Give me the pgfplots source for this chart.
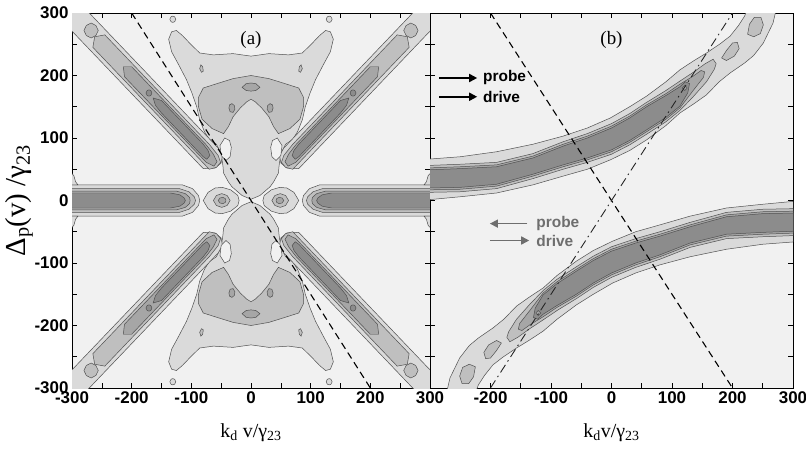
\documentclass[border=0pt]{standalone}
\usepackage{pgfplots}
\pgfplotsset{compat=1.18}
\usepackage{pgfplotstable}
\usetikzlibrary{arrows.meta}
\usepackage{fontspec}
\setmainfont{Liberation Serif}
\setsansfont{Liberation Sans}

\definecolor{bgc}{HTML}{F1F1F1}
\definecolor{ca}{HTML}{DADADA}
\definecolor{cb}{HTML}{BFBFBF}
\definecolor{cc}{HTML}{A6A6A6}
\definecolor{cd}{HTML}{8C8C8C}
\definecolor{cline}{HTML}{505050}
\definecolor{legray}{HTML}{6E6E6E}

\newcommand\ticksf{\fontsize{17}{17}\selectfont\sffamily\bfseries}
\newcommand\labf{\fontsize{20}{24}\selectfont\rmfamily}

\pgfplotsset{
  L0/.style={fill=bgc, draw=cline, line width=0.5pt},
  L1/.style={fill=ca, draw=cline, line width=0.5pt},
  L2/.style={fill=cb, draw=cline, line width=0.5pt},
  L3/.style={fill=cc, draw=cline, line width=0.5pt},
  L4/.style={fill=cd, draw=cline, line width=0.5pt},
}

\newcommand{\fourway}[2]{%
  \addplot[#1] table[x=x,y=y]{#2} -- cycle;
  \addplot[#1] table[x expr=-1*(\thisrow{x}),y=y]{#2} -- cycle;
  \addplot[#1] table[x=x,y expr=-1*(\thisrow{y})]{#2} -- cycle;
  \addplot[#1] table[x expr=-1*(\thisrow{x}),y expr=-1*(\thisrow{y})]{#2} -- cycle;}
\newcommand{\xmir}[2]{%
  \addplot[#1] table[x=x,y=y]{#2} -- cycle;
  \addplot[#1] table[x expr=-1*(\thisrow{x}),y=y]{#2} -- cycle;}
\newcommand{\ymir}[2]{%
  \addplot[#1] table[x=x,y=y]{#2} -- cycle;
  \addplot[#1] table[x=x,y expr=-1*(\thisrow{y})]{#2} -- cycle;}
\newcommand{\rot}[2]{%
  \addplot[#1] table[x=x,y=y]{#2} -- cycle;
  \addplot[#1] table[x expr=-1*(\thisrow{x}),y expr=-1*(\thisrow{y})]{#2} -- cycle;}

% ---------- panel (a) : upper-left quadrant shapes ----------
\pgfplotstableread{
x y
-320 349
-250 279
-200 229
-150 179
-100 129
-70 99
-55 84
-48 72
-50 60
-60 52
-80 51
-100 71
-150 121
-200 171
-250 221
-320 291
}\armA
\pgfplotstableread{
x y
-280 272
-276 280
-268 284
-260 280
-256 272
-260 264
-268 260
-276 264
}\beadA
\pgfplotstableread{
x y
-262 262
-245 265
-200 220
-150 170
-100 120
-70 90
-55 72
-51 61
-58 53
-70 50
-100 80
-150 130
-200 180
-250 230
-265 245
}\armB
\pgfplotstableread{
x y
-214 214
-200 214
-150 164
-100 114
-75 89
-63 74
-57 62
-62 55
-75 61
-100 86
-150 136
-200 186
-212 198
}\armC
\pgfplotstableread{
x y
-164 164
-150 160
-100 110
-80 90
-72 80
-69 72
-74 66
-80 70
-100 90
-150 140
-160 152
}\armD
\pgfplotstableread{
x y
-176 172
-174 176
-171 177
-168 176
-166 172
-168 168
-171 167
-174 168
}\dotD
\pgfplotstableread{
x y
-305 25
-115 25
-98 19
-88 8
-86 0
-88 -8
-98 -19
-115 -25
-305 -25
}\hA
\pgfplotstableread{
x y
-305 19
-120 19
-104 14
-95 6
-93 0
-95 -6
-104 -14
-120 -19
-305 -19
}\hB
\pgfplotstableread{
x y
-305 15
-125 15
-110 11
-103 5
-102 0
-103 -5
-110 -11
-125 -15
-305 -15
}\hC
\pgfplotstableread{
x y
-305 12
-135 12
-119 9
-112 4
-110 0
-112 -4
-119 -9
-135 -12
-305 -12
}\hD
\pgfplotstableread{
x y
-305 25
-302 45
-297 40
-294 30
-290 25
}\flare
\pgfplotstableread{
x y
-80 0
-72 13
-60 20
-48 21
-34 17
-22 8
-20 0
-22 -8
-34 -17
-48 -21
-60 -20
-72 -13
}\sbA
\pgfplotstableread{
x y
-63 0
-58 8
-49 11
-40 8
-35 0
-40 -8
-49 -11
-58 -8
}\sbB
\pgfplotstableread{
x y
-55 0
-52 4
-47 5
-43 3
-42 0
-43 -3
-47 -5
-52 -4
}\sbC
\pgfplotstableread{
x y
0 231
-30 235
-63 233
-86 236
-102 251
-115 264
-125 272
-133 270
-138 258
-133 238
-120 215
-108 193
-99 172
-91 150
-86 129
-78 110
-70 98
-58 90
-50 75
-47 55
-46 44
-38 30
-32 22
-15 8
0 2
15 8
32 22
38 30
46 44
47 55
50 75
58 90
70 98
78 110
86 129
91 150
99 172
108 193
120 215
133 238
138 258
133 270
125 272
115 264
102 251
86 236
63 233
30 235
}\cenA
\pgfplotstableread{
x y
-44 100
-36 96
-33 85
-35 70
-42 64
-50 72
-52 88
}\pocket
\pgfplotstableread{
x y
0 200
-30 195
-57 187
-80 180
-88 165
-88 150
-82 130
-65 115
-46 107
-38 118
-30 134
-18 148
-7 158
0 162
7 158
18 148
30 134
38 118
46 107
65 115
82 130
88 150
88 165
80 180
57 187
30 195
}\bat
\pgfplotstableread{
x y
-15 181
-8 187
0 188
8 187
15 181
8 176
0 175
-8 176
}\spotT
\pgfplotstableread{
x y
-32 155
-28 152
-27 146
-30 141
-35 142
-37 148
-36 153
}\spotS
\pgfplotstableread{
x y
-86 211
-84 217
-81 214
-80 207
-83 205
}\spotU
\pgfplotstableread{
x y
-136 290
-134 294
-131 295
-128 294
-126 290
-128 286
-131 285
-134 286
}\spotC

% ---------- panel (b) : upper band (lower band = point reflection) ----------
\pgfplotstableread{
x y
-305 66
-250 70
-190 78
-130 90
-80 103
-40 116
-2 132
30 150
58 167
90 190
113 209
135 223
157 236
180 251
196 263
210 280
220 295
224 305
272 305
267 284
251 252
235 232
220 220
196 204
178 190
157 169
135 154
113 140
90 120
58 97
30 80
-2 65
-40 50
-80 39
-130 25
-190 12
-250 6
-305 1
}\bA
\pgfplotstableread{
x y
-305 56
-250 58
-190 61
-130 75
-80 94
-40 107
0 123
30 139
58 157
90 176
113 191
135 205
155 219
168 226
173 219
170 210
157 190
135 166
113 144
90 126
58 106
30 89
0 74
-40 61
-80 50
-130 35
-190 19
-250 14
-305 13
}\bB
\pgfplotstableread{
x y
-305 52
-250 54
-190 57
-130 71
-80 90
-40 103
0 119
30 135
58 153
90 171
113 186
135 199
148 208
154 206
152 197
135 176
113 148
90 130
58 110
30 93
0 78
-40 65
-80 54
-130 39
-190 23
-250 18
-305 17
}\bC
\pgfplotstableread{
x y
-305 49
-250 51
-190 54
-130 68
-80 87
-40 100
0 116
30 132
58 150
90 168
113 182
122 190
129 187
126 172
113 151
90 133
58 113
30 96
0 81
-40 68
-80 57
-130 42
-190 26
-250 21
-305 20
}\bD
\pgfplotstableread{
x y
117 180
121 184
125 180
121 176
}\bdot
\pgfplotstableread{
x y
182 228
190 240
200 252
208 253
211 243
203 231
190 224
}\blobA
\pgfplotstableread{
x y
225 266
228 282
236 293
247 293
251 281
246 267
235 262
}\blobB

\pgfplotsset{
  panel/.style={
    scale only axis, height=375bp,
    xmin=-300, xmax=300, ymin=-300, ymax=300,
    axis background/.style={fill=bgc},
    ytick={-300,-200,...,300},
    minor xtick={-250,-150,...,250},
    minor ytick={-250,-150,...,250},
    xtick pos=both, ytick pos=both,
    xticklabel pos=lower, yticklabel pos=left,
    tick align=inside,
    major tick length=5bp, minor tick length=5bp,
    tick style={black, line width=0.6pt},
    axis line style={black, line width=0.8pt},
    tick label style={font=\ticksf},
    xlabel style={font=\labf, at={(axis description cs:0.5,-0.118)}, anchor=center},
  }
}

\begin{document}
\begin{tikzpicture}
\useasboundingbox (0,0) rectangle (806bp,449bp);
% ===================== (a) =====================
\begin{axis}[panel,
  at={(72bp,61bp)}, anchor=south west, width=358bp,
  xtick={-300,-200,...,300},
  xticklabels={-300,-200,-100,0,100,200,300},
  yticklabels={-300,-200,-100,0,100,200,300},
  xlabel={k\textsubscript{d} v/γ\textsubscript{23}},
  ylabel={Δ\textsubscript{p}(v) /γ\textsubscript{23}},
  ylabel style={font=\fontsize{29}{32}\selectfont\rmfamily, at={(axis description cs:-0.148,0.5)}, anchor=center},
]
% level 1
\ymir{L1}{\cenA}
\fourway{L1}{\armA}
\xmir{L1}{\hA}
\fourway{L1}{\flare}
\xmir{L1}{\sbA}
\fourway{L1}{\spotC}
\fourway{L0}{\pocket}
% level 2
\ymir{L2}{\bat}
\fourway{L2}{\beadA}
\fourway{L2}{\armB}
\xmir{L2}{\hB}
\xmir{L2}{\sbB}
\fourway{L2}{\spotU}
% level 3
\fourway{L3}{\armC}
\xmir{L3}{\hC}
\xmir{L3}{\sbC}
\ymir{L3}{\spotT}
\fourway{L3}{\spotS}
% level 4
\fourway{L4}{\armD}
\fourway{L4}{\dotD}
\xmir{L4}{\hD}
% dashed line
\addplot[black, line width=1.1pt, dash pattern=on 7bp off 4.5bp] coordinates {(-200,300) (200,-300)};
\node[font=\fontsize{19}{22}\selectfont\rmfamily] at (axis cs:0,257) {(a)};
\end{axis}
% ===================== (b) =====================
\begin{axis}[panel,
  at={(430bp,61bp)}, anchor=south west, width=363bp,
  xtick={-200,-100,...,300},
  xticklabels={-200,-100,0,100,200,300},
  yticklabels={},
  xlabel={k\textsubscript{d}v/γ\textsubscript{23}},
]
\rot{L1}{\bA}
\rot{L2}{\bB}
\rot{L2}{\blobA}
\rot{L2}{\blobB}
\rot{L3}{\bC}
\rot{L4}{\bD}
\rot{L3}{\bdot}
\addplot[black, line width=1.1pt, dash pattern=on 7bp off 4.5bp] coordinates {(-200,300) (200,-300)};
\addplot[black!85, line width=0.9pt, dash pattern=on 9bp off 4bp on 1.5bp off 4bp] coordinates {(-200,-300) (200,300)};
% legends
\addplot[black, line width=1.7pt, -{Triangle[length=8bp,width=8bp]}] coordinates {(-285,196) (-222,196)};
\addplot[black, line width=1.7pt, -{Triangle[length=8bp,width=8bp]}] coordinates {(-285,166) (-222,166)};
\node[anchor=west, font=\fontsize{15.5}{17}\selectfont\sffamily\bfseries] at (axis cs:-218,196) {probe};
\node[anchor=west, font=\fontsize{15.5}{17}\selectfont\sffamily\bfseries] at (axis cs:-218,166) {drive};
\addplot[legray, line width=1.5pt, -{Triangle[length=8bp,width=8bp]}] coordinates {(-139,-37) (-201,-37)};
\addplot[legray, line width=1.5pt, -{Triangle[length=8bp,width=8bp]}] coordinates {(-201,-64) (-136,-64)};
\node[anchor=west, text=legray, font=\fontsize{15.5}{17}\selectfont\sffamily\bfseries] at (axis cs:-130,-37) {probe};
\node[anchor=west, text=legray, font=\fontsize{15.5}{17}\selectfont\sffamily\bfseries] at (axis cs:-130,-64) {drive};
\node[font=\fontsize{19}{22}\selectfont\rmfamily] at (axis cs:0,257) {(b)};
\end{axis}
\end{tikzpicture}
\end{document}
